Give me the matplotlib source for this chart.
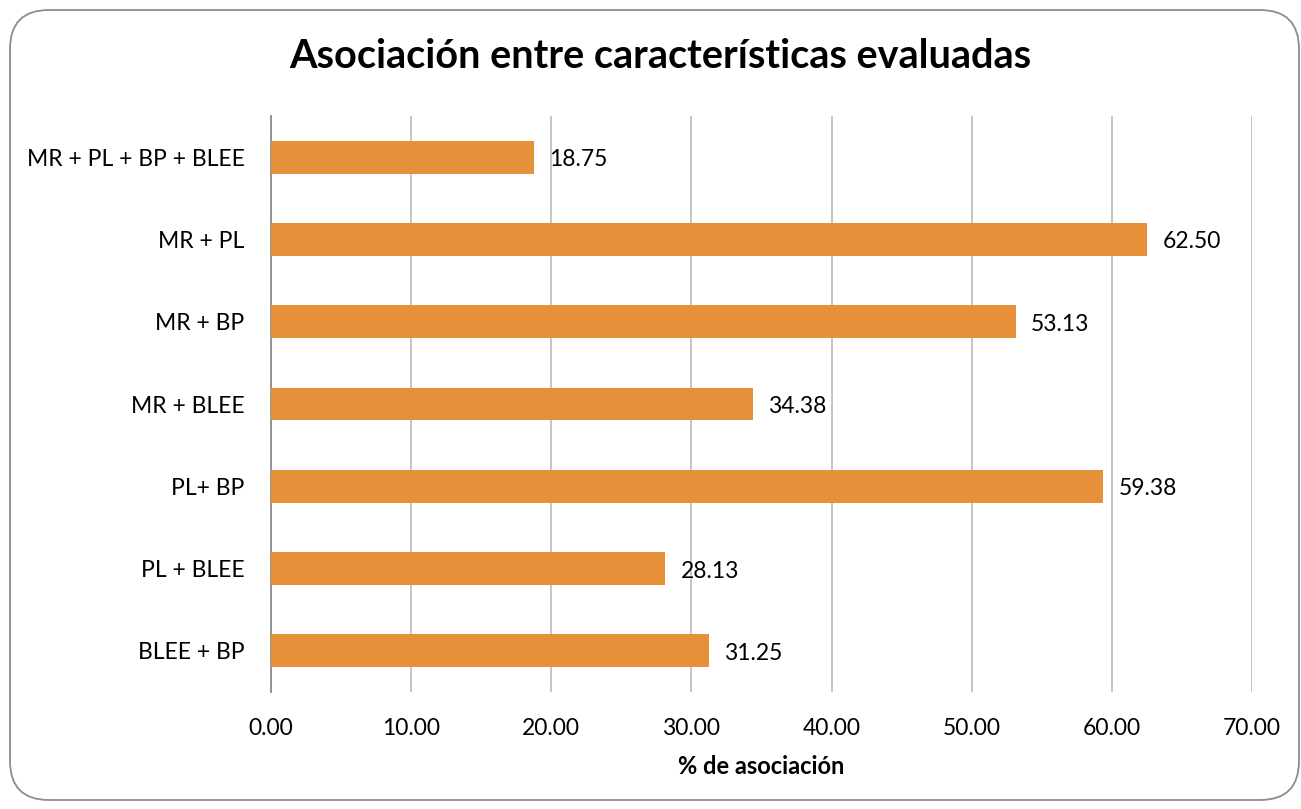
import matplotlib
matplotlib.use("Agg")
import matplotlib.pyplot as plt
from matplotlib.patches import FancyBboxPatch

categories = ["MR + PL + BP + BLEE", "MR + PL", "MR + BP", "MR + BLEE",
              "PL+ BP", "PL + BLEE", "BLEE + BP"]
values = [18.75, 62.50, 53.13, 34.38, 59.38, 28.13, 31.25]
xticks = [0, 10, 20, 30, 40, 50, 60, 70]

plt.rcParams['font.family'] = ['Lato', 'DejaVu Sans']

W, H = 1301, 809
fig = plt.figure(figsize=(W / 100, H / 100), dpi=100)

border = FancyBboxPatch((10 / W, 9 / H), (1289 / W), (790 / H),
                        boxstyle="round,pad=0,rounding_size=0.03",
                        transform=fig.transFigure, facecolor="white",
                        edgecolor="#8c8c8c", linewidth=1.3, zorder=-5,
                        mutation_aspect=W / H)
fig.add_artist(border)

ax = fig.add_axes([271 / W, 1 - 692 / H, (1252 - 271) / W, (692 - 116) / H])
ax.set_facecolor("none")
ax.set_zorder(2)
y = list(range(len(categories)))
ax.barh(y, values, height=0.4, color="#E6913A", zorder=3)
ax.set_ylim(len(categories) - 0.5, -0.5)
ax.set_xlim(0, 70)
ax.set_yticks(y)
ax.set_yticklabels(categories, fontsize=16.5)
ax.set_xticks(xticks)
ax.set_xticklabels([f"{t:.2f}" for t in xticks], fontsize=16.5)
ax.tick_params(axis='x', length=0, pad=19)
ax.tick_params(axis='y', length=0, pad=19)
ax.grid(axis='x', color="#c0c0c0", linewidth=1.3, zorder=0)
for s in ["top", "right", "bottom"]:
    ax.spines[s].set_visible(False)
ax.spines["left"].set_color("#8c8c8c")
ax.spines["left"].set_linewidth(1.3)

for yi, v in zip(y, values):
    ax.text(v + 1.1, yi + 0.03, f"{v:.2f}", va="center", ha="left",
            fontsize=16.5, zorder=4)

ax.set_xlabel("% de asociación", fontsize=17, fontweight="bold", labelpad=11)
fig.text(660 / W, 1 - 57 / H, "Asociación entre características evaluadas",
         ha="center", va="center", fontsize=28.5, fontweight="bold")

fig.savefig("out.png", dpi=100)
